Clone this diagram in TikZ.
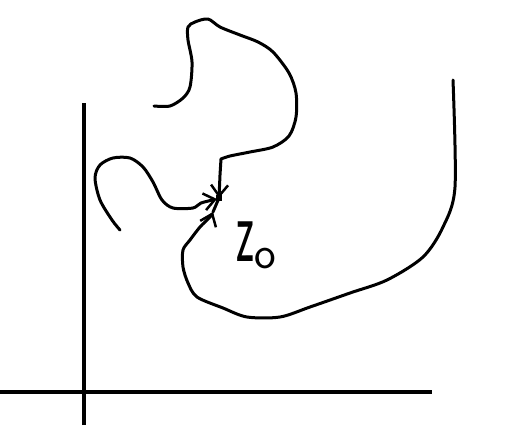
\documentclass[tikz,border=0pt]{standalone}
\usetikzlibrary{arrows.meta}
\tikzset{
  sketch/.style={line width=3pt, line cap=round, line join=round},
  axis/.style={line width=3.2pt},
  barb/.style={-{Straight Barb[length=11pt,width=17pt,line width=2.5pt]}},
}
\begin{document}
\begin{tikzpicture}[x=1pt,y=-1pt]
\useasboundingbox (0,0) rectangle (514,434);
% axes
\coordinate (xa) at (0,392);
\coordinate (xb) at (432,392);
\coordinate (ya) at (84,425);
\coordinate (yb) at (84,103);
\draw[axis] (xa) -- (xb);
\draw[axis] (ya) -- (yb);
% point z0
\coordinate (z0) at (219,198);
\node[fill, minimum size=6pt, inner sep=0pt] (z0pt) at (z0) {};
% top curve
\coordinate (tstart) at (154,106);
\draw[sketch, barb] plot[smooth, tension=0.5] coordinates {(154,106) (170,106) (183,98) (190,87) (192,62) (188,40) (188,27) (195,22) (208,19) (220,27) (240,35) (258,42) (273,52) (289,73) (296,93) (296,117) (289,136) (273,147) (250,152) (230,156) (221,159)}
  -- (220,175) -- (z0);
% left curve
\coordinate (lstart) at (120,230);
\draw[sketch, barb] plot[smooth, tension=0.5] coordinates {(120,230) (112,220) (100,200) (95,178) (100,165) (113,158) (130,158) (143,167) (153,182) (162,200) (173,208) (193,208) (201,203) (217,199)};
% bottom curve
\coordinate (bstart) at (453,80);
\coordinate (btip) at (213,212);
\draw[sketch, barb] plot[smooth, tension=0.5] coordinates {(453,80) (455,187) (443,227) (423,257) (387,280) (350,293) (310,307) (280,317) (247,317) (223,308) (197,297) (188,283) (183,267) (183,250) (190,240) (200,227) (210,217) (213,212)};
\draw[sketch] (btip) -- (z0);
% label
\node[font=\fontsize{44}{44}\selectfont\sffamily, inner sep=0pt, anchor=base west] (lbl) at (236,261) {\scalebox{1}[2.1]{z}\raisebox{-7pt}{\fontsize{46}{46}\selectfont o}};
\end{tikzpicture}
\end{document}
